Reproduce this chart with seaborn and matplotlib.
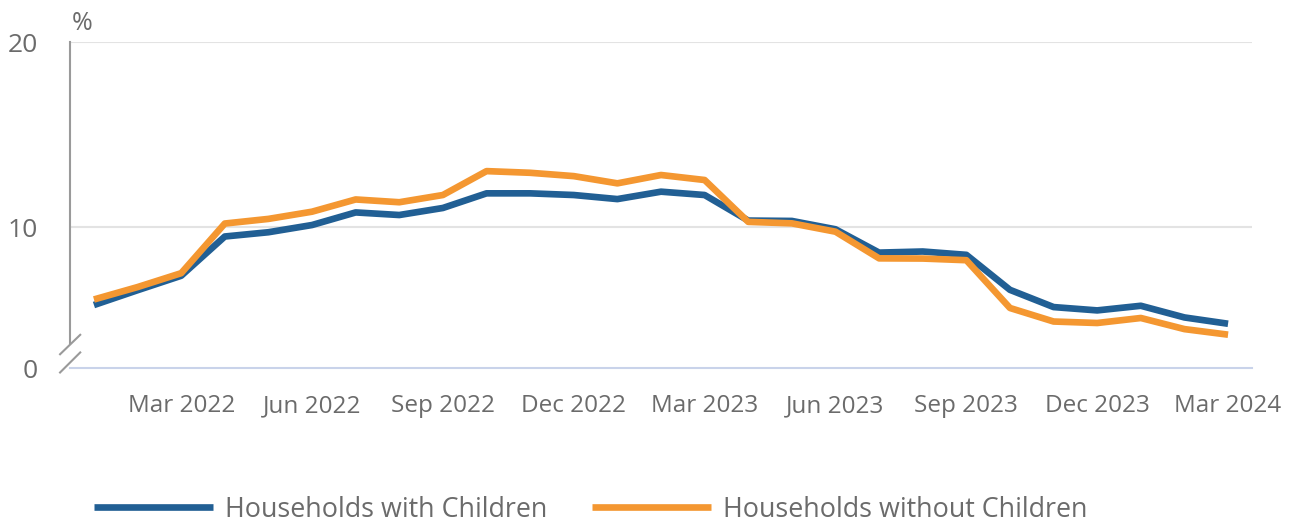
import pandas as pd
import matplotlib.pyplot as plt
import seaborn as sns

# --------------
# Data
# --------------
months = ['Jan 2022', 'Feb 2022', 'Mar 2022', 'Apr 2022', 'May 2022', 'Jun 2022',
          'Jul 2022', 'Aug 2022', 'Sep 2022', 'Oct 2022', 'Nov 2022', 'Dec 2022',
          'Jan 2023', 'Feb 2023', 'Mar 2023', 'Apr 2023', 'May 2023', 'Jun 2023',
          'Jul 2023', 'Aug 2023', 'Sep 2023', 'Oct 2023', 'Nov 2023', 'Dec 2023',
          'Jan 2024', 'Feb 2024', 'Mar 2024']
with_children = [5.8, 6.6, 7.38, 9.5, 9.73, 10.12, 10.8, 10.66, 11.04, 11.83, 11.83, 11.74,
                 11.52, 11.92, 11.74, 10.36, 10.34, 9.89, 8.63, 8.69, 8.51, 6.62, 5.69, 5.51,
                 5.76, 5.13, 4.79]
without_children = [6.1, 6.77, 7.52, 10.2, 10.45, 10.84, 11.5, 11.35, 11.74, 13.03, 12.94, 12.76,
                    12.37, 12.82, 12.55, 10.29, 10.21, 9.76, 8.32, 8.31, 8.22, 5.64, 4.91, 4.83,
                    5.10, 4.5, 4.2]
series_names = ['Households with Children', 'Households without Children']
tick_months = ['Mar 2022', 'Jun 2022', 'Sep 2022', 'Dec 2022', 'Mar 2023',
               'Jun 2023', 'Sep 2023', 'Dec 2023', 'Mar 2024']
y_ticks = [2.4, 10, 20]
y_labels = ['0', '10', '20']

df = pd.DataFrame({
    'month': list(range(len(months))) * 2,
    'value': with_children + without_children,
    'series': [series_names[0]] * len(months) + [series_names[1]] * len(months),
})

# --------------
# Plot
# --------------
sns.set_style('white')
plt.rcParams['font.family'] = ['Open Sans', 'DejaVu Sans']
plt.rcParams['lines.solid_capstyle'] = 'butt'

grey = '#6b6b6b'
colors = ['#215f94', '#f49731']
fig = plt.figure(figsize=(12.98, 5.24), dpi=100)
ax = fig.add_axes([0.0539, 0.2977, 0.9107, 0.6221])

sns.lineplot(data=df, x='month', y='value', hue='series', hue_order=series_names,
             palette=colors, linewidth=4.8, ax=ax, legend=False)

ax.set_xlim(-0.55, 26.55)
ax.set_ylim(2.4, 20)
ax.set_xlabel('')
ax.set_ylabel('')

# grid lines
for v in [10, 20]:
    ax.axhline(v, color='#e3e3e3', linewidth=1.5, zorder=0)

# ticks
ax.set_xticks([months.index(m) for m in tick_months])
ax.set_xticklabels(tick_months)
ax.tick_params(axis='x', length=18, width=1.5, color='#c9d3ea', labelcolor=grey,
               labelsize=17.5, pad=1)
ax.set_yticks(y_ticks)
ax.set_yticklabels(y_labels)
ax.tick_params(axis='y', length=0, labelcolor=grey, labelsize=19, pad=23)

for s in ['top', 'right']:
    ax.spines[s].set_visible(False)
ax.spines['bottom'].set_color('#c9d3ea')
ax.spines['bottom'].set_linewidth(1.5)
ax.spines['left'].set_color('#9a9a9a')
ax.spines['left'].set_linewidth(1.5)
ax.spines['left'].set_bounds(3.77, 20)

# axis break marks
ax.plot([-0.009, 0.0093], [0.04, 0.104], transform=ax.transAxes, color='#9a9a9a',
        linewidth=1.5, clip_on=False)
ax.plot([-0.009, 0.0093], [-0.016, 0.05], transform=ax.transAxes, color='#9a9a9a',
        linewidth=1.5, clip_on=False)

ax.text(0.01, 1.02, '%', transform=ax.transAxes, color=grey, fontsize=18,
        ha='center', va='bottom')

# legend
handles = [plt.Line2D([], [], color=c, linewidth=4.8) for c in colors]
fig.legend(handles, series_names, loc='lower left', bbox_to_anchor=(0.054, -0.046),
           ncol=2, frameon=False, fontsize=19.4, handlelength=4.4, handletextpad=0.45,
           columnspacing=1.67, labelcolor=grey)

plt.savefig('out.png', dpi=100)
plt.close()
